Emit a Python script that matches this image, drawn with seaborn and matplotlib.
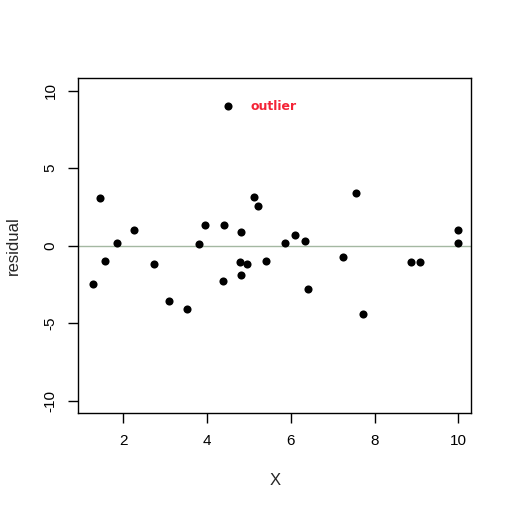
#import libraries
import pandas as pd
import seaborn as sns
import matplotlib.pyplot as plt

#data
x = [1.28, 1.45, 1.57, 1.84, 2.26, 2.74, 3.08, 3.51, 3.80, 3.94,
     4.37, 4.40, 4.49, 4.78, 4.80, 4.80, 4.95, 5.11, 5.21, 5.40,
     5.86, 6.10, 6.34, 6.41, 7.25, 7.56, 7.72, 8.87, 9.09, 9.98, 10.0]
residual = [-2.48, 3.09, -0.99, 0.17, 1.02, -1.19, -3.58, -4.10, 0.11, 1.36,
            -2.29, 1.36, 8.98, -1.06, 0.89, -1.90, -1.19, 3.17, 2.59, -0.99,
            0.19, 0.71, 0.30, -2.80, -0.73, 3.41, -4.42, -1.06, -1.06, 0.19, 1.04]
yticks = [-10, -5, 0, 5, 10]
xticks = [2, 4, 6, 8, 10]

df = pd.DataFrame({'X': x, 'residual': residual})

sns.set_style('white')
plt.rcParams['font.family'] = ['Liberation Sans', 'DejaVu Sans']

fig = plt.figure(figsize=(5.12, 5.11), dpi=100)
ax = fig.add_axes([0.153, 0.191, 0.767, 0.656])

#scatter of residuals
sns.scatterplot(data=df, x='X', y='residual', color='black', s=34, edgecolor='black', linewidth=0, ax=ax, zorder=3)
ax.axhline(0, color='#a4b8a2', linewidth=1, zorder=1)
ax.text(5.03, 9.0, 'outlier', color='#f42336', fontsize=9, fontweight='bold',
        family='DejaVu Sans', va='center', ha='left')

#R-like axes
ax.set_xlim(0.922, 10.30)
ax.set_ylim(-10.8, 10.8)
ax.set_xticks(xticks)
ax.set_yticks(yticks)
ax.set_yticklabels([str(t) for t in yticks], rotation=90, va='center')
ax.tick_params(axis='both', direction='out', length=7, width=1, labelsize=11, colors='black', pad=8, left=True, bottom=True)
for sp in ax.spines.values():
    sp.set_color('black')
    sp.set_linewidth(1)
ax.set_xlabel('X', fontsize=12, labelpad=18)
ax.set_ylabel('residual', fontsize=12, labelpad=16)

fig.savefig('out.png', dpi=100)
